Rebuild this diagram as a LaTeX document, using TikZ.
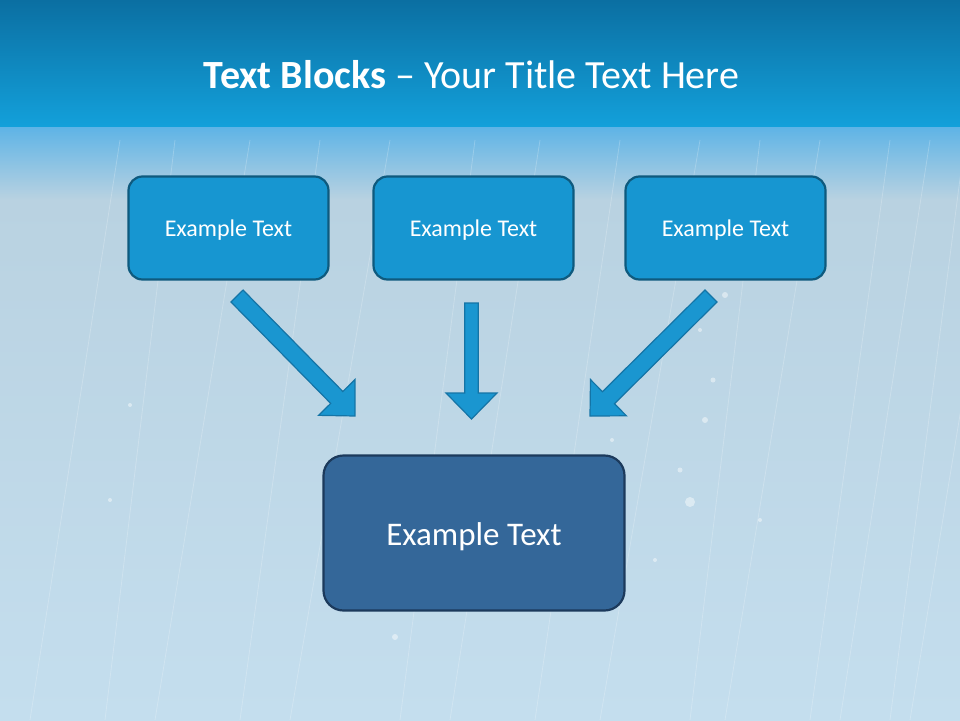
\documentclass[tikz,border=0pt]{standalone}
\usepackage{fontspec}
\setmainfont{Carlito}
\usetikzlibrary{calc}
\definecolor{bandtop}{HTML}{0B6FA2}
\definecolor{bandbot}{HTML}{13A0DA}
\definecolor{lighttop}{HTML}{5CB3E6}
\definecolor{lightmid}{HTML}{B9D2E1}
\definecolor{lightbot}{HTML}{C4DEEE}
\definecolor{boxfill}{HTML}{1796D1}
\definecolor{boxline}{HTML}{0E5A7E}
\definecolor{bigfill}{HTML}{346799}
\definecolor{bigline}{HTML}{1C3A5C}
\definecolor{arrfill}{HTML}{1A96D0}
\definecolor{arrline}{HTML}{1474A6}
\tikzset{
  smallbox/.style={draw=boxline, line width=2.2pt, fill=boxfill, rounded corners=14pt,
    minimum width=200pt, minimum height=103pt},
  smalltext/.style={text=white, font=\fontsize{24}{28}\selectfont, yshift=-2pt},
  bigbox/.style={draw=bigline, line width=2.2pt, fill=bigfill, rounded corners=20pt,
    minimum width=301pt, minimum height=155pt},
  bigtext/.style={text=white, font=\fontsize{33}{38}\selectfont, yshift=-3.5pt},
  blockarrow/.style={fill=arrfill, draw=arrline, line width=1.2pt, line join=miter},
  streak/.style={white, opacity=0.22, line width=0.8pt}
}
\newcommand\blockarr[3]{%
  \path[blockarrow] let \p1=($(#2)-(#1)$), \n1={atan2(\y1,\x1)}, \n2={veclen(\x1,\y1)} in
    [shift={(#1)}, rotate=\n1]
    (0,-#3) -- (\n2-26,-#3) -- (\n2-26,-25.5) -- (\n2,0) -- (\n2-26,25.5) -- (\n2-26,#3) -- (0,#3) -- cycle;}
\begin{document}
\begin{tikzpicture}[x=1pt,y=-1pt]
\useasboundingbox (0,0) rectangle (960,720);
% background
\shade[top color=lighttop, bottom color=lightmid] (0,125) rectangle (960,200);
\shade[top color=lightmid, bottom color=lightbot] (0,200) rectangle (960,720);
\shade[top color=bandtop, bottom color=bandbot] (0,0) rectangle (960,126);
% faint streaks
\foreach \a/\d in {60/90,115/70,190/95,260/80,330/100,415/75,480/90,560/85,640/100,700/70,760/95,830/80,870/90,905/75,945/95}{
  \draw[streak] (\a+60,140) -- (\a+60-\d,720);
}
\foreach \px/\py/\r in {690/502/5,705/420/3,713/380/2.5,725/295/3,700/330/2,680/470/2.5,655/560/2,395/637/3,612/440/2,760/520/2,130/405/2,110/500/2}{
  \fill[white, opacity=0.45] (\px,\py) circle (\r);
}
% title
\node[text=white, font=\fontsize{40}{46}\selectfont] (title) at (471.5,75) {\textbf{Text Blocks} – Your Title Text Here};
% boxes
\node[smallbox, label={[smalltext]center:Example Text}] (b1) at (228.5,228) {};
\node[smallbox, label={[smalltext]center:Example Text}] (b2) at (473.5,228) {};
\node[smallbox, label={[smalltext]center:Example Text}] (b3) at (725.5,228) {};
\node[bigbox, label={[bigtext]center:Example Text}] (big) at (474,533) {};
% arrows
\coordinate (t1) at (237,296); \coordinate (h1) at (355,416);
\coordinate (t2) at (471.5,303); \coordinate (h2) at (471.5,419);
\coordinate (t3) at (711,296); \coordinate (h3) at (590,416);
\blockarr{t1}{h1}{8.5}
\blockarr{t2}{h2}{6.8}
\blockarr{t3}{h3}{8.5}
\end{tikzpicture}
\end{document}
